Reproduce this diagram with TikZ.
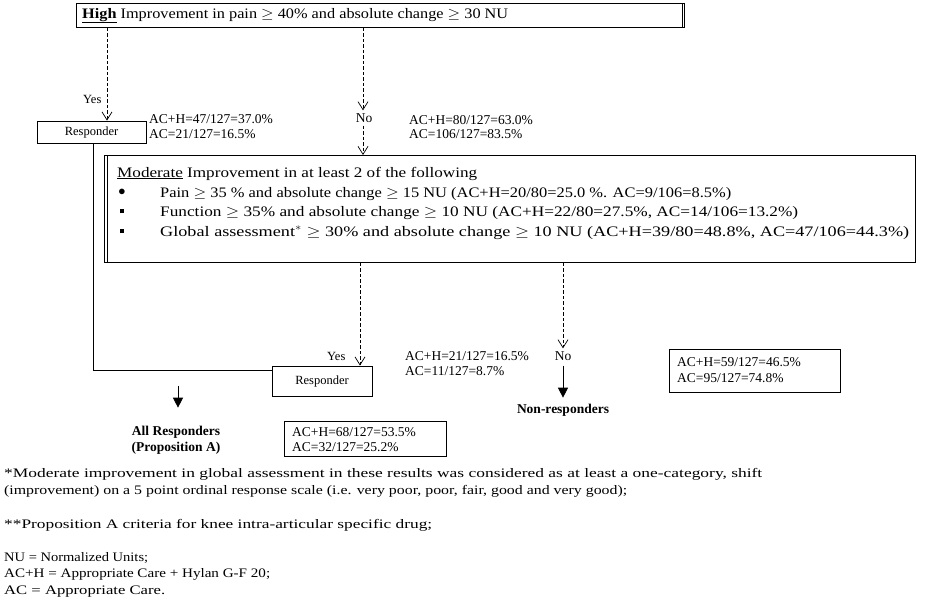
\documentclass[tikz,border=0pt]{standalone}
\usepackage{fontspec}
\setmainfont{Liberation Serif}
\usetikzlibrary{arrows.meta}
% set a line of text to a given width, keeping its height
\newcommand{\fitline}[2]{\resizebox{#1}{\height}{#2}}
\begin{document}
\begin{tikzpicture}[x=1pt,y=-1pt,
  txt/.style={inner sep=0pt,font=\fontsize{13.5}{16}\selectfont},
  line/.style={txt,anchor=base west},
  big/.style={inner sep=0pt,anchor=base west,font=\fontsize{14.5}{17}\selectfont},
  small/.style={inner sep=0pt,font=\fontsize{12.5}{15}\selectfont},
  note/.style={inner sep=0pt,anchor=base west,font=\fontsize{13}{15}\selectfont},
  frame/.style={draw,line width=0.9pt,rectangle,inner sep=0pt},
  dashedline/.style={line width=0.6pt,dash pattern=on 3.5pt off 2pt},
  openhead/.style={-{Straight Barb[length=8pt,width=10pt,line width=0.7pt]}},
  solidhead/.style={line width=0.8pt,-{Triangle[length=10pt,width=10pt]}},
  solidline/.style={line width=0.9pt},
]
\useasboundingbox (0,0) rectangle (927,600);

% ---- first criterion ----
\node[frame,anchor=north west,minimum width=608pt,minimum height=24pt] (high) at (76,3) {};
\draw[line width=0.9pt] ([xshift=-2pt]high.north east) -- ([xshift=-2pt]high.south east);
\node[big] (hightext) at (82,18) {\fitline{426pt}{\underline{\textbf{High}} Improvement in pain $\geq$ 40\% and absolute change $\geq$ 30 NU}};

\coordinate (xyes1) at (107,0);
\coordinate (xno1) at (363,0);

\node[frame,small,minimum width=109pt,minimum height=22pt] (resp1) at (91.5,132) {Responder};
\node[small,anchor=base west] (yes1) at (83,103) {Yes};
\node[line] (s1a) at (149,123) {AC+H=47/127=37.0\%};
\node[line] (s1b) at (149,138) {AC=21/127=16.5\%};
\node[txt] (no1) at (364,118) {No};
\node[line] (s2a) at (409,124) {AC+H=80/127=63.0\%};
\node[line] (s2b) at (409,138) {AC=106/127=83.5\%};

\draw[dashedline,openhead] (high.south -| xyes1) -- (resp1.north -| xyes1);
\draw[dashedline,openhead] (high.south -| xno1) -- ([yshift=3pt]no1.north -| xno1);

% ---- second criterion ----
\node[frame,anchor=north west,minimum width=811pt,minimum height=107pt] (mod) at (104,155) {};
\draw[line width=0.8pt] ([xshift=3pt]mod.north west) -- ([xshift=3pt]mod.south west);
\draw[dashedline,openhead] ([yshift=-3pt]no1.south -| xno1) -- (mod.north -| xno1);

\node[big] (modhead) at (117,177) {\fitline{360pt}{\underline{Moderate} Improvement in at least 2 of the following}};
\node[txt] (b1) at (122,192) {$\bullet$};
\node[txt] (b2) at (122,211) {\rule{4.5pt}{4.5pt}};
\node[txt] (b3) at (122,231) {\rule{4.5pt}{4.5pt}};
\node[big] (m1) at (160,197) {\fitline{571pt}{Pain $\geq$ 35 \% and absolute change $\geq$ 15 NU (AC+H=20/80=25.0 \%. AC=9/106=8.5\%)}};
\node[big] (m2) at (160,216) {\fitline{638pt}{Function $\geq$ 35\% and absolute change $\geq$ 10 NU (AC+H=22/80=27.5\%, AC=14/106=13.2\%)}};
\node[big] (m3) at (160,236) {\fitline{749pt}{Global assessment$^{*}$ $\geq$ 30\% and absolute change $\geq$ 10 NU (AC+H=39/80=48.8\%, AC=47/106=44.3\%)}};

\coordinate (xyes2) at (360,0);
\coordinate (xno2) at (563,0);

\node[frame,small,minimum width=100pt,minimum height=30pt] (resp2) at (322,381) {Responder};
\node[small,anchor=base west] (yes2) at (327,360) {Yes};
\node[line] (s3a) at (405,360) {AC+H=21/127=16.5\%};
\node[line] (s3b) at (405,375) {AC=11/127=8.7\%};
\node[txt] (no2) at (563,356) {No};

\draw[dashedline,openhead] (mod.south -| xyes2) -- (resp2.north -| xyes2);
\draw[dashedline,openhead] (mod.south -| xno2) -- ([yshift=3pt]no2.north -| xno2);

% ---- outcomes ----
\coordinate (corner) at (93,370);
\draw[solidline] (resp1.south -| corner) -- (corner) -- (resp2.west |- corner);

\node[txt,align=center,font=\fontsize{13.5}{16}\selectfont\bfseries] (allresp) at (176,440) {All Responders\\(Proposition A)};
\coordinate (alltop) at (178,386);
\draw[solidhead] (alltop) -- ([yshift=18pt]allresp.north -| alltop);

\node[frame,anchor=north west,minimum width=162pt,minimum height=35pt] (allbox) at (284,421) {};
\node[line] (s4a) at (292,436) {AC+H=68/127=53.5\%};
\node[line] (s4b) at (292,451) {AC=32/127=25.2\%};

\node[txt,font=\fontsize{13.5}{16}\selectfont\bfseries] (nonresp) at (563,410) {Non-responders};
\draw[solidhead] ([yshift=-5pt]no2.south) -- ([yshift=6pt]nonresp.north);

\node[frame,anchor=north west,minimum width=171pt,minimum height=43pt] (nonbox) at (669,349) {};
\node[line] (s5a) at (677,366) {AC+H=59/127=46.5\%};
\node[line] (s5b) at (677,382) {AC=95/127=74.8\%};

% ---- notes ----
\node[note] (n1) at (4,477) {\fitline{758pt}{*Moderate improvement in global assessment in these results was considered as at least a one-category, shift}};
\node[note] (n2) at (4,494) {\fitline{623pt}{(improvement) on a 5 point ordinal response scale (i.e. very poor, poor, fair, good and very good);}};
\node[note] (n3) at (4,528) {\fitline{428pt}{**Proposition A criteria for knee intra-articular specific drug;}};
\node[note] (n4) at (4,561) {\fitline{144pt}{NU = Normalized Units;}};
\node[note] (n5) at (4,577) {\fitline{266pt}{AC+H = Appropriate Care + Hylan G-F 20;}};
\node[note] (n6) at (4,594) {\fitline{161pt}{AC = Appropriate Care.}};
\end{tikzpicture}
\end{document}
